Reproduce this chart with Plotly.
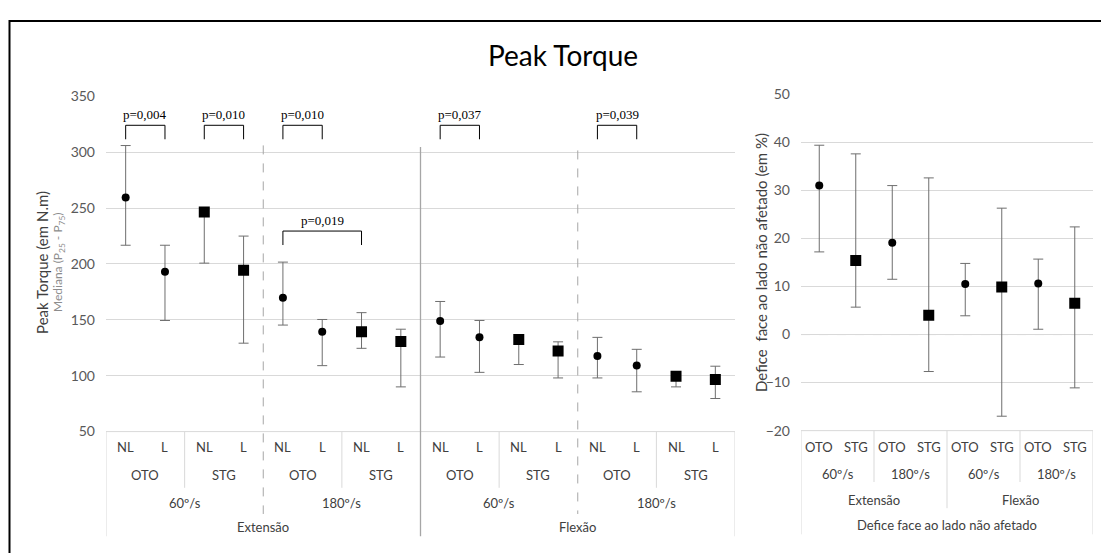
import plotly.graph_objects as go

W, H = 1101, 553

# ---------------- data: left panel (Peak Torque, N.m) ----------------
cond_labels = ["NL", "L"] * 8
group_labels = ["OTO", "STG"] * 4
speed_labels = ["60º/s", "180º/s", "60º/s", "180º/s"]
move_labels = ["Extensão", "Flexão"]

median_left = [259.5, 193, 246.5, 194.3, 169.7, 139.3, 139.3, 130.6,
               149, 134.3, 132.3, 122.2, 117.6, 109.1, 99.6, 96.7]
p75_left = [305.9, 216.7, 249, 224.9, 201.6, 150.3, 156.4, 141.6,
            166.4, 149.4, 134.5, 130.3, 134.3, 123.6, 101.5, 108.5]
p25_left = [216.7, 149.4, 200.7, 129.1, 145.3, 109, 124.5, 90,
            116.7, 103, 110, 98, 98, 85.6, 90, 79.6]

# p-value brackets: (first category index, second category index, label, bracket top value)
pvals = [(0, 1, "p=0,004", 324), (2, 3, "p=0,010", 324), (4, 5, "p=0,010", 324),
         (4, 6, "p=0,019", 229.4), (8, 9, "p=0,037", 324), (12, 13, "p=0,039", 324)]

# ---------------- data: right panel (deficit, %) ----------------
right_group = ["OTO", "STG"] * 4
right_speed = ["60º/s", "180º/s", "60º/s", "180º/s"]
right_move = ["Extensão", "Flexão"]
right_title = "Defice face ao lado não afetado"
median_right = [31.0, 15.4, 19.1, 4.0, 10.5, 9.9, 10.6, 6.5]
p75_right = [39.4, 37.6, 31.0, 32.6, 14.8, 26.3, 15.7, 22.4]
p25_right = [17.2, 5.7, 11.5, -7.7, 3.9, -17.0, 1.1, -11.1]


def px(x):
    return x / W


def py(y):
    return 1 - y / H


FONT = "Lato"
TXT = "#404040"
TICK = "#595959"
GRID = "#d9d9d9"
ERR = "#6e6e6e"

fig = go.Figure()

# ----- left traces -----
xs_l = list(range(16))
for sym, size, idxs in [("circle", 8, [i for i in xs_l if (i // 2) % 2 == 0]),
                        ("square", 11, [i for i in xs_l if (i // 2) % 2 == 1])]:
    fig.add_trace(go.Scatter(
        x=idxs, y=[median_left[i] for i in idxs], mode="markers",
        marker=dict(symbol=sym, size=size, color="black"),
        error_y=dict(type="data", symmetric=False,
                     array=[p75_left[i] - median_left[i] for i in idxs],
                     arrayminus=[median_left[i] - p25_left[i] for i in idxs],
                     color=ERR, thickness=1, width=5),
        xaxis="x", yaxis="y", showlegend=False))

# ----- right traces -----
xs_r = list(range(8))
for sym, size, idxs in [("circle", 8, [i for i in xs_r if i % 2 == 0]),
                        ("square", 11, [i for i in xs_r if i % 2 == 1])]:
    fig.add_trace(go.Scatter(
        x=idxs, y=[median_right[i] for i in idxs], mode="markers",
        marker=dict(symbol=sym, size=size, color="black"),
        error_y=dict(type="data", symmetric=False,
                     array=[p75_right[i] - median_right[i] for i in idxs],
                     arrayminus=[median_right[i] - p25_right[i] for i in idxs],
                     color=ERR, thickness=1, width=5),
        xaxis="x2", yaxis="y2", showlegend=False))

L_YDOM = [py(436), py(90)]
R_YDOM = [py(435), py(88)]
L_YR = [50, 350]
R_YR = [-20, 50]

fig.update_layout(
    width=W, height=H, margin=dict(l=0, r=0, t=0, b=0),
    paper_bgcolor="white", plot_bgcolor="white",
    font=dict(family=FONT, color=TXT),
    xaxis=dict(domain=[px(106), px(735)], range=[-0.5, 15.5], showgrid=False,
               showticklabels=False, zeroline=False, showline=False, ticks=""),
    yaxis=dict(domain=L_YDOM, range=L_YR, tickvals=[50, 100, 150, 200, 250, 300, 350],
               showgrid=True, gridcolor=GRID, gridwidth=1, zeroline=False, showline=False,
               tickfont=dict(size=14, color=TICK, family=FONT), ticks="", ticklabelstandoff=10),
    xaxis2=dict(domain=[px(801), px(1093)], range=[-0.5, 7.5], showgrid=False,
                showticklabels=False, zeroline=False, showline=False, ticks="", anchor="y2"),
    yaxis2=dict(domain=R_YDOM, range=R_YR, tickvals=[-20, -10, 0, 10, 20, 30, 40, 50],
                showgrid=True, gridcolor=GRID, gridwidth=1, zeroline=False, showline=False,
                tickfont=dict(size=14, color=TICK, family=FONT), ticks="", ticklabelstandoff=10,
                anchor="x2"),
)

shapes = []
ann = []


def yl_paper(v):
    return L_YDOM[0] + (v - L_YR[0]) / (L_YR[1] - L_YR[0]) * (L_YDOM[1] - L_YDOM[0])


def label(x, y, text, xref="paper", yref="paper", **font):
    f = dict(size=13, color=TXT)
    f.update(font)
    ann.append(dict(x=x, y=y, xref=xref, yref=yref, text=text, showarrow=False,
                    xanchor="center", yanchor="middle", font=f))


# zero line right panel (dashed, covering the solid gridline)
shapes.append(dict(type="line", xref="x2", yref="y2", x0=-0.5, x1=7.5, y0=0, y1=0,
                   line=dict(color="white", width=2), layer="below"))
shapes.append(dict(type="line", xref="x2", yref="y2", x0=-0.5, x1=7.5, y0=0, y1=0,
                   line=dict(color="#a6a6a6", width=1, dash="dash"), layer="below"))

# ----- left table -----
ROW_L = [452, 481, 510, 534]
TB_L = 544
for i, lab in enumerate(cond_labels):
    label(i, py(ROW_L[0]), lab, xref="x")
for j, lab in enumerate(group_labels):
    label(2 * j + 0.5, py(ROW_L[1]), lab, xref="x")
for j, lab in enumerate(speed_labels):
    label(4 * j + 1.5, py(ROW_L[2]), lab, xref="x")
for j, lab in enumerate(move_labels):
    label(8 * j + 3.5, py(ROW_L[3]), lab, xref="x")

shapes.append(dict(type="line", xref="x", yref="paper", x0=-0.5, x1=15.5, y0=py(436), y1=py(436),
                   line=dict(color=GRID, width=1)))
for xv in [-0.5, 15.5]:
    shapes.append(dict(type="line", xref="x", yref="paper", x0=xv, x1=xv, y0=py(436), y1=py(TB_L),
                       line=dict(color=GRID, width=1)))
for xv in [1.5, 5.5, 9.5, 13.5]:
    shapes.append(dict(type="line", xref="x", yref="paper", x0=xv, x1=xv, y0=py(436), y1=py(494),
                       line=dict(color=GRID, width=1)))
for xv, top in [(3.5, 306), (11.5, 301.5)]:
    shapes.append(dict(type="line", xref="x", yref="paper", x0=xv, x1=xv, y0=yl_paper(top), y1=py(521),
                       line=dict(color="#a6a6a6", width=1, dash="dash")))
shapes.append(dict(type="line", xref="x", yref="paper", x0=7.5, x1=7.5, y0=yl_paper(304.5), y1=py(TB_L),
                   line=dict(color="#a6a6a6", width=1.3)))

# p-value brackets
for a, b, lab, top in pvals:
    leg = top - 12.5
    shapes.append(dict(type="path", xref="x", yref="y",
                       path=f"M {a},{leg} L {a},{top} L {b},{top} L {b},{leg}",
                       line=dict(color="black", width=1)))
    label((a + b) / 2, top + 9.5, lab, xref="x", yref="y",
          family="Liberation Serif", size=13, color="black")

# ----- right table -----
ROW_R = [452, 480, 507, 532]
TB_R = 542
for i, lab in enumerate(right_group):
    label(i, py(ROW_R[0]), lab, xref="x2")
for j, lab in enumerate(right_speed):
    label(2 * j + 0.5, py(ROW_R[1]), lab, xref="x2")
for j, lab in enumerate(right_move):
    label(4 * j + 1.5, py(ROW_R[2]), lab, xref="x2")
label(3.5, py(ROW_R[3]), right_title, xref="x2")

shapes.append(dict(type="line", xref="x2", yref="paper", x0=-0.5, x1=7.5, y0=py(435), y1=py(435),
                   line=dict(color=GRID, width=1)))
for xv in [-0.5, 7.5]:
    shapes.append(dict(type="line", xref="x2", yref="paper", x0=xv, x1=xv, y0=py(435), y1=py(TB_R),
                       line=dict(color=GRID, width=1)))
for xv in [1.5, 5.5]:
    shapes.append(dict(type="line", xref="x2", yref="paper", x0=xv, x1=xv, y0=py(435), y1=py(488),
                       line=dict(color=GRID, width=1)))
shapes.append(dict(type="line", xref="x2", yref="paper", x0=3.5, x1=3.5, y0=py(435), y1=py(515),
                   line=dict(color=GRID, width=1)))

# ----- titles -----
label(px(563), py(47), "Peak Torque", size=28, color="black")
ann.append(dict(x=px(42), y=py(262), xref="paper", yref="paper", text="Peak Torque (em N.m)",
                showarrow=False, textangle=-90, xanchor="center", yanchor="middle",
                font=dict(size=15, color=TXT)))
ann.append(dict(x=px(59), y=py(262), xref="paper", yref="paper",
                text="Mediana (P<sub>25</sub> - P<sub>75</sub>)",
                showarrow=False, textangle=-90, xanchor="center", yanchor="middle",
                font=dict(size=12, color="#8c8c8c")))
ann.append(dict(x=px(761), y=py(262), xref="paper", yref="paper",
                text="Defice\u00a0 face ao lado não afetado (em %)",
                showarrow=False, textangle=-90, xanchor="center", yanchor="middle",
                font=dict(size=15, color=TXT)))

# outer border
shapes.append(dict(type="rect", xref="paper", yref="paper", x0=px(9.5), x1=px(1110), y0=py(12.5), y1=py(570),
                   line=dict(color="black", width=2), fillcolor="rgba(0,0,0,0)"))

fig.update_layout(shapes=shapes, annotations=ann)
fig.write_html("out.html")
